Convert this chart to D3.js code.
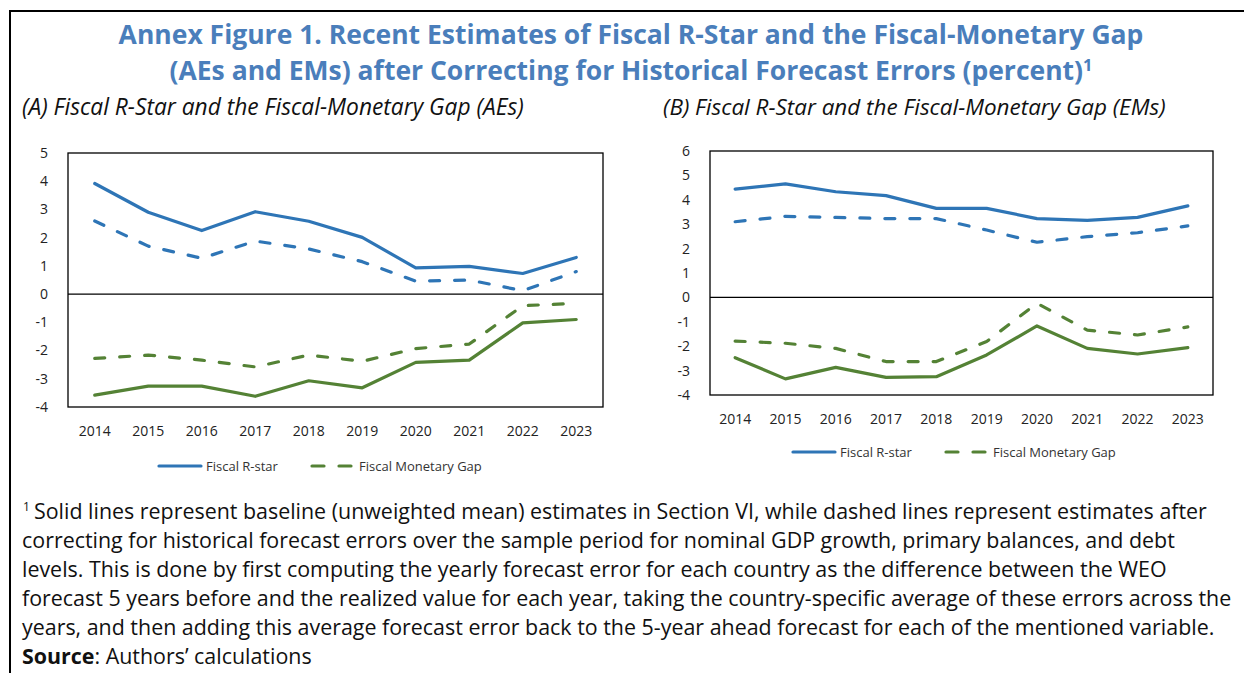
<!DOCTYPE html>
<html>
<head>
<meta charset="utf-8">
<script src="https://cdn.jsdelivr.net/npm/d3@7"></script>
<style>
  body { margin: 0; background: #fff; }
  svg { display: block; }
  .tick-label { font-family: "Open Sans", sans-serif; font-size: 14px; fill: #222; }
  .legend-text { font-family: "Open Sans", sans-serif; font-size: 13px; fill: #333; }
</style>
</head>
<body>
<div id="chart"></div>
<script>
(function() {
  const W = 1244, H = 673;

  const years = [2014, 2015, 2016, 2017, 2018, 2019, 2020, 2021, 2022, 2023];

  // (A) advanced economies
  const aeRstar    = [3.92, 2.90, 2.25, 2.92, 2.58, 2.01, 0.93, 0.98, 0.73, 1.30];
  const aeRstarAdj = [2.59, 1.70, 1.27, 1.88, 1.60, 1.15, 0.46, 0.50, 0.12, 0.80];
  const aeGap      = [-3.58, -3.26, -3.26, -3.62, -3.07, -3.32, -2.42, -2.34, -1.02, -0.90];
  const aeGapAdj   = [-2.28, -2.16, -2.34, -2.58, -2.16, -2.38, -1.93, -1.77, -0.41, -0.33];

  // (B) emerging markets
  const emRstar    = [4.44, 4.65, 4.33, 4.17, 3.65, 3.65, 3.23, 3.16, 3.28, 3.75];
  const emRstarAdj = [3.10, 3.32, 3.28, 3.23, 3.23, 2.76, 2.26, 2.49, 2.65, 2.93];
  const emGap      = [-2.47, -3.34, -2.87, -3.28, -3.25, -2.36, -1.17, -2.09, -2.32, -2.06];
  const emGapAdj   = [-1.79, -1.88, -2.09, -2.63, -2.63, -1.81, -0.24, -1.34, -1.54, -1.21];

  const aeTicks = [5, 4, 3, 2, 1, 0, -1, -2, -3, -4];
  const emTicks = [6, 5, 4, 3, 2, 1, 0, -1, -2, -3, -4];

  const titleLines = [
    "Annex Figure 1. Recent Estimates of Fiscal R-Star and the Fiscal-Monetary Gap",
    "(AEs and EMs) after Correcting for Historical Forecast Errors (percent)"
  ];
  const panelTitles = [
    "(A) Fiscal R-Star and the Fiscal-Monetary Gap (AEs)",
    "(B) Fiscal R-Star and the Fiscal-Monetary Gap (EMs)"
  ];
  const seriesNames = ["Fiscal R-star", "Fiscal Monetary Gap"];
  const noteLines = [
    "Solid lines represent baseline (unweighted mean) estimates in Section VI, while dashed lines represent estimates after",
    "correcting for historical forecast errors over the sample period for nominal GDP growth, primary balances, and debt",
    "levels. This is done by first computing the yearly forecast error for each country as the difference between the WEO",
    "forecast 5 years before and the realized value for each year, taking the country-specific average of these errors across the",
    "years, and then adding this average forecast error back to the 5-year ahead forecast for each of the mentioned variable."
  ];

  const blue = "#2e75b6";
  const green = "#548235";
  const titleColor = "#4a7ebb";
  const dash = "10,15";

  const svg = d3.select("#chart").append("svg")
    .attr("width", W)
    .attr("height", H);

  // scale a text's font size so its natural width hits the target, return the size
  function fitSize(sel, target) {
    const node = sel.node();
    const base = parseFloat(getComputedStyle(node).fontSize);
    const w = node.getComputedTextLength();
    const size = base * target / w;
    sel.style("font-size", size + "px");
    return size;
  }

  // outer frame (only top and left visible)
  svg.append("path")
    .attr("d", `M10,${H} L10,11 L${W},11`)
    .attr("fill", "none")
    .attr("stroke", "#000")
    .attr("stroke-width", 2);

  // title
  const titles = svg.selectAll(".title")
    .data(titleLines)
    .enter().append("text")
      .attr("class", "title")
      .attr("x", 631)
      .attr("y", (d, i) => 44 + i * 36)
      .attr("text-anchor", "middle")
      .style("font-family", "'Open Sans', sans-serif")
      .style("font-weight", "bold")
      .style("font-size", "23px")
      .style("fill", titleColor)
      .text(d => d);

  const tSize = fitSize(titles.filter((d, i) => i === 0), 1025);
  titles.style("font-size", tSize + "px");
  titles.filter((d, i) => i === 1)
    .append("tspan")
      .attr("dy", -9)
      .style("font-size", (tSize * 0.62) + "px")
      .text("1");

  const panels = [
    { left: 68, right: 603, top: 153, bottom: 407, domain: [-4, 5], ticks: aeTicks,
      title: panelTitles[0], titleX: 22, titleW: 502,
      series: [aeRstar, aeRstarAdj, aeGap, aeGapAdj], legendX: 158, legendY: 466 },
    { left: 710, right: 1213, top: 151, bottom: 395, domain: [-4, 6], ticks: emTicks,
      title: panelTitles[1], titleX: 663, titleW: 503,
      series: [emRstar, emRstarAdj, emGap, emGapAdj], legendX: 792, legendY: 452 }
  ];

  panels.forEach(drawPanel);

  function drawPanel(p) {
    const g = svg.append("g");

    const pt = g.append("text")
      .attr("x", p.titleX)
      .attr("y", 115)
      .style("font-family", "'Open Sans', sans-serif")
      .style("font-style", "italic")
      .style("font-size", "18px")
      .style("fill", "#111")
      .text(p.title);
    fitSize(pt, p.titleW);

    const x = d3.scaleBand().domain(years).range([p.left, p.right]);
    const y = d3.scaleLinear().domain(p.domain).range([p.bottom, p.top]);

    // y tick labels
    g.selectAll(".ytick")
      .data(p.ticks)
      .enter().append("text")
        .attr("class", "tick-label")
        .attr("x", p.left - 20)
        .attr("y", d => y(d))
        .attr("dy", "0.35em")
        .attr("text-anchor", "end")
        .text(d => d);

    // x tick labels
    g.selectAll(".xtick")
      .data(years)
      .enter().append("text")
        .attr("class", "tick-label")
        .attr("x", d => x(d) + x.bandwidth() / 2)
        .attr("y", p.bottom + 29)
        .attr("text-anchor", "middle")
        .text(d => d);

    // zero line
    g.append("line")
      .attr("x1", p.left).attr("x2", p.right)
      .attr("y1", y(0)).attr("y2", y(0))
      .attr("stroke", "#000")
      .attr("stroke-width", 1.2);

    const line = d3.line()
      .x((d, i) => x(years[i]) + x.bandwidth() / 2)
      .y(d => y(d));

    const styles = [
      { color: blue, dash: null },
      { color: blue, dash: dash },
      { color: green, dash: null },
      { color: green, dash: dash }
    ];

    p.series.forEach((s, k) => {
      g.append("path")
        .datum(s)
        .attr("d", line)
        .attr("fill", "none")
        .attr("stroke", styles[k].color)
        .attr("stroke-width", 3.2)
        .attr("stroke-linejoin", "round")
        .attr("stroke-linecap", "round")
        .attr("stroke-dasharray", styles[k].dash);
    });

    // plot box
    g.append("rect")
      .attr("x", p.left).attr("y", p.top)
      .attr("width", p.right - p.left)
      .attr("height", p.bottom - p.top)
      .attr("fill", "none")
      .attr("stroke", "#000")
      .attr("stroke-width", 1.3);

    // legend
    const lg = g.append("g").attr("transform", `translate(${p.legendX}, ${p.legendY})`);
    lg.append("line")
      .attr("x1", 1).attr("x2", 43)
      .attr("stroke", blue).attr("stroke-width", 3.2).attr("stroke-linecap", "round");
    lg.append("text")
      .attr("class", "legend-text")
      .attr("x", 48).attr("dy", "0.35em")
      .text(seriesNames[0]);
    lg.append("line")
      .attr("x1", 154).attr("x2", 196)
      .attr("stroke", green).attr("stroke-width", 3.2).attr("stroke-linecap", "round")
      .attr("stroke-dasharray", "12,15");
    lg.append("text")
      .attr("class", "legend-text")
      .attr("x", 201).attr("dy", "0.35em")
      .text(seriesNames[1]);
  }

  // footnote
  const note = svg.append("g")
    .style("font-family", "'Open Sans', sans-serif")
    .style("font-size", "18px")
    .style("fill", "#111");

  const noteText = note.selectAll(".note")
    .data(noteLines)
    .enter().append("text")
      .attr("class", "note")
      .attr("x", (d, i) => i === 0 ? 34 : 22)
      .attr("y", (d, i) => 519 + i * 29)
      .text(d => d);

  const nSize = fitSize(noteText.filter((d, i) => i === 3), 1210);
  noteText.style("font-size", nSize + "px");

  note.append("text")
    .attr("x", 23)
    .attr("y", 511)
    .style("font-size", "12px")
    .text("1");

  const src = note.append("text")
    .attr("x", 22)
    .attr("y", 664)
    .style("font-size", nSize + "px");
  src.append("tspan").style("font-weight", "bold").text("Source");
  src.append("tspan").text(": Authors\u2019 calculations");
})();
</script>
</body>
</html>
